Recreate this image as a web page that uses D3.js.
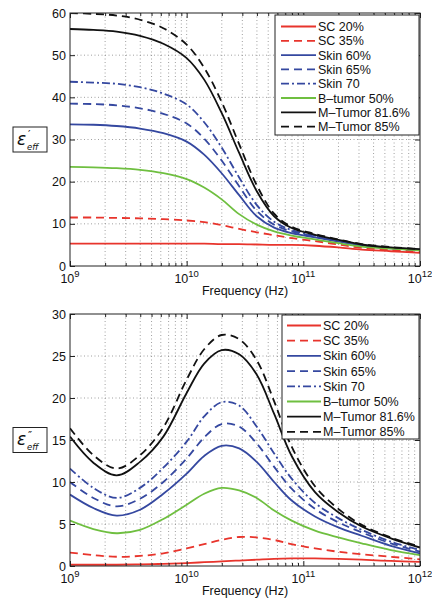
<!DOCTYPE html>
<html>
<head>
<meta charset="utf-8">
<script src="https://cdn.jsdelivr.net/npm/d3@7"></script>
<style>
  body { margin: 0; background: #fff; }
  svg { font-family: "Liberation Sans", Arial, Helvetica, sans-serif; }
</style>
</head>
<body>
<div id="chart-area"></div>
<script>
// frequency points (Hz) shared by every series
var freqHz = [1e9, 1.585e9, 2.512e9, 3.981e9, 6.31e9, 1e10, 1.413e10, 1.995e10, 2.818e10,
              3.981e10, 5.623e10, 7.943e10, 1.259e11, 1.995e11, 3.162e11, 5.623e11, 1e12];

var seriesNames = ["SC 20%", "SC 35%", "Skin 60%", "Skin 65%", "Skin 70", "B\u2013tumor 50%", "M\u2013Tumor 81.6%", "M\u2013Tumor 85%"];

// real part  eps'_eff
var realSC20   = [5.3, 5.3, 5.3, 5.3, 5.3, 5.3, 5.3, 5.2, 5.2, 5.1, 5.0, 5.0, 4.8, 4.4, 3.9, 3.5, 3.1];
var realSC35   = [11.5, 11.5, 11.4, 11.3, 11.1, 10.8, 10.4, 9.7, 8.8, 8.0, 7.3, 6.6, 5.9, 5.1, 4.3, 3.8, 3.4];
var realSkin60 = [33.6, 33.5, 33.2, 32.6, 31.5, 29.5, 26.4, 22.0, 16.8, 11.8, 9.1, 7.8, 6.8, 5.8, 4.9, 4.2, 3.8];
var realSkin65 = [38.5, 38.4, 38.1, 37.4, 36.1, 33.8, 30.2, 25.0, 18.9, 13.1, 9.8, 8.2, 7.0, 5.9, 4.9, 4.3, 3.9];
var realSkin70 = [43.7, 43.5, 43.2, 42.4, 40.9, 38.3, 34.1, 28.1, 21.0, 14.5, 10.5, 8.5, 7.2, 6.0, 5.0, 4.3, 3.9];
var realBT50   = [23.5, 23.4, 23.2, 22.8, 22.0, 20.6, 18.6, 15.8, 12.3, 9.8, 8.2, 7.2, 6.3, 5.4, 4.6, 4.1, 3.7];
var realMT816  = [56.2, 56.0, 55.6, 54.6, 52.7, 49.3, 44.2, 36.3, 26.8, 17.8, 11.8, 9.0, 7.4, 6.2, 5.1, 4.4, 4.0];
var realMT85   = [60.0, 59.8, 59.4, 58.4, 56.4, 52.5, 47.0, 38.9, 28.9, 19.2, 12.4, 9.3, 7.6, 6.3, 5.2, 4.5, 4.0];

// imaginary part  eps''_eff
var imagSC20   = [0.15, 0.15, 0.15, 0.2, 0.25, 0.35, 0.45, 0.55, 0.65, 0.75, 0.85, 0.9, 0.9, 0.85, 0.75, 0.6, 0.5];
var imagSC35   = [1.6, 1.3, 1.1, 1.2, 1.5, 2.1, 2.6, 3.1, 3.45, 3.4, 3.1, 2.6, 2.1, 1.7, 1.4, 1.1, 0.8];
var imagSkin60 = [8.5, 6.9, 6.0, 6.7, 8.6, 11.0, 13.1, 14.3, 14.0, 12.4, 10.0, 7.8, 5.9, 4.6, 3.6, 2.4, 1.5];
var imagSkin65 = [10.0, 8.1, 7.1, 8.0, 10.0, 12.8, 15.3, 16.9, 16.6, 14.6, 11.8, 9.2, 6.8, 5.2, 4.0, 2.7, 1.7];
var imagSkin70 = [11.6, 9.3, 8.1, 9.3, 11.7, 14.8, 17.8, 19.5, 19.1, 16.6, 13.4, 10.4, 7.5, 5.7, 4.3, 2.9, 1.9];
var imagBT50   = [5.4, 4.4, 3.9, 4.3, 5.6, 7.3, 8.6, 9.3, 9.0, 8.1, 6.6, 5.4, 4.2, 3.4, 2.7, 1.9, 1.3];
var imagMT816  = [15.4, 12.3, 10.8, 12.4, 15.4, 20.6, 24.1, 25.7, 25.2, 22.8, 18.1, 13.1, 8.8, 6.4, 4.7, 3.3, 2.2];
var imagMT85   = [16.4, 13.2, 11.6, 13.2, 16.5, 22.2, 25.8, 27.5, 27.0, 24.5, 19.6, 14.2, 9.5, 6.8, 4.9, 3.4, 2.3];

var xTicks = [1e9, 1e10, 1e11, 1e12];
var yTicksTop = [0, 10, 20, 30, 40, 50, 60];
var yTicksBottom = [0, 5, 10, 15, 20, 25, 30];

// line styles per series
var colors = ["#e8342c", "#e8342c", "#3548a0", "#3548a0", "#3548a0", "#6fbf40", "#111111", "#111111"];
var dashes = [null, "8,5", null, "8,5", "8,3,2,3", null, null, "8,5"];

var svg = d3.select("#chart-area")
    .append("svg")
        .attr("width", 432)
        .attr("height", 600);

svg.append("rect").attr("width", 432).attr("height", 600).attr("fill", "#fff");

var left = 70, right = 420;

var x = d3.scaleLog()
    .domain([1e9, 1e12])
    .range([left, right]);

// minor tick values 2..9 of each decade
var minorTicks = [];
[1e9, 1e10, 1e11].forEach(function(d){
    for (var k = 2; k <= 9; k++) minorTicks.push(k * d);
});

function drawPanel(opt){
    var y = d3.scaleLinear()
        .domain([0, opt.ymax])
        .range([opt.bottom, opt.top]);

    var g = svg.append("g");

    // grid
    g.selectAll(".vgrid")
        .data(minorTicks.concat([1e10, 1e11]))
        .enter().append("line")
        .attr("x1", function(d){ return x(d); })
        .attr("x2", function(d){ return x(d); })
        .attr("y1", opt.top).attr("y2", opt.bottom)
        .attr("stroke", "#888").attr("stroke-width", 0.8)
        .attr("stroke-dasharray", "1,2.5");

    g.selectAll(".hgrid")
        .data(opt.yTicks.slice(1, -1))
        .enter().append("line")
        .attr("x1", left).attr("x2", right)
        .attr("y1", function(d){ return y(d); })
        .attr("y2", function(d){ return y(d); })
        .attr("stroke", "#888").attr("stroke-width", 0.8)
        .attr("stroke-dasharray", "1,2.5");

    // curves
    var clipId = "clip" + opt.top;
    svg.append("clipPath").attr("id", clipId)
        .append("rect").attr("x", left).attr("y", opt.top)
        .attr("width", right - left).attr("height", opt.bottom - opt.top);

    var line = d3.line()
        .x(function(d){ return x(d[0]); })
        .y(function(d){ return y(d[1]); })
        .curve(d3.curveCatmullRom.alpha(0.5));

    g.append("g").attr("clip-path", "url(#" + clipId + ")")
        .selectAll("path")
        .data(opt.series)
        .enter().append("path")
        .attr("d", function(s){ return line(d3.zip(freqHz, s)); })
        .attr("fill", "none")
        .attr("stroke", function(s, i){ return colors[i]; })
        .attr("stroke-width", 1.8)
        .attr("stroke-dasharray", function(s, i){ return dashes[i]; });

    // axes, ticks pointing inward
    var yLeft = d3.axisLeft(y).tickValues(opt.yTicks).tickSize(-5).tickPadding(4);
    var yRight = d3.axisRight(y).tickValues(opt.yTicks).tickSize(-5).tickFormat("");
    var xBottom = d3.axisBottom(x).tickValues(xTicks).tickSize(-5).tickFormat("");
    var xTop = d3.axisTop(x).tickValues(xTicks).tickSize(-5).tickFormat("");
    var xBottomMinor = d3.axisBottom(x).tickValues(minorTicks).tickSize(-3).tickFormat("");
    var xTopMinor = d3.axisTop(x).tickValues(minorTicks).tickSize(-3).tickFormat("");

    var yl = g.append("g").attr("transform", "translate(" + left + ",0)").call(yLeft);
    g.append("g").attr("transform", "translate(" + right + ",0)").call(yRight);
    g.append("g").attr("transform", "translate(0," + opt.bottom + ")").call(xBottom);
    g.append("g").attr("transform", "translate(0," + opt.top + ")").call(xTop);
    g.append("g").attr("transform", "translate(0," + opt.bottom + ")").call(xBottomMinor);
    g.append("g").attr("transform", "translate(0," + opt.top + ")").call(xTopMinor);
    g.selectAll(".domain").remove();
    g.selectAll(".tick line").attr("stroke", "#222");

    yl.selectAll("text")
        .attr("font-size", "12.5px")
        .attr("font-family", "Liberation Sans, Arial, sans-serif")
        .attr("fill", "#111");

    // x tick labels 10^n
    var xl = g.selectAll(".xlab")
        .data(xTicks)
        .enter().append("text")
        .attr("x", function(d){ return x(d); })
        .attr("y", opt.bottom + 17)
        .attr("text-anchor", "middle")
        .attr("font-size", "12.5px")
        .attr("fill", "#111");
    xl.append("tspan").text("10");
    xl.append("tspan")
        .attr("dy", -6)
        .attr("font-size", "9.5px")
        .text(function(d){ return Math.round(Math.log10(d)); });

    g.append("text")
        .attr("x", 245)
        .attr("y", opt.bottom + 29)
        .attr("text-anchor", "middle")
        .attr("font-size", "12.5px")
        .attr("fill", "#111")
        .text("Frequency (Hz)");

    // plot border
    g.append("rect")
        .attr("x", left).attr("y", opt.top)
        .attr("width", right - left).attr("height", opt.bottom - opt.top)
        .attr("fill", "none").attr("stroke", "#222").attr("stroke-width", 1);

    // boxed y label: epsilon, primes above, "eff" below
    var cy = (opt.top + opt.bottom) / 2;
    g.append("rect")
        .attr("x", 13).attr("y", cy - 12.5)
        .attr("width", 34).attr("height", 25)
        .attr("fill", "#fff").attr("stroke", "#222").attr("stroke-width", 1);
    g.append("text")
        .attr("x", 17).attr("y", cy + 5)
        .attr("font-family", "DejaVu Sans, sans-serif")
        .attr("font-style", "italic")
        .attr("font-size", "17px")
        .attr("fill", "#111")
        .text("\u03b5");
    g.append("text")
        .attr("x", 28).attr("y", cy - 1.5)
        .attr("font-family", "DejaVu Sans, sans-serif")
        .attr("font-size", "11px")
        .attr("fill", "#111")
        .text(opt.prime);
    g.append("text")
        .attr("x", 27).attr("y", cy + 10)
        .attr("font-family", "DejaVu Sans, sans-serif")
        .attr("font-style", "italic")
        .attr("font-size", "8.5px")
        .attr("fill", "#111")
        .text("eff");

    // legend
    var lg = g.append("g");
    lg.append("rect")
        .attr("x", opt.legend.x).attr("y", opt.legend.y)
        .attr("width", opt.legend.w).attr("height", opt.legend.h)
        .attr("fill", "#fff").attr("stroke", "#222").attr("stroke-width", 1);
    var rows = lg.selectAll(".row")
        .data(seriesNames)
        .enter().append("g")
        .attr("transform", function(d, i){
            return "translate(0," + (opt.legend.y + opt.legend.first + i * opt.legend.step) + ")";
        });
    rows.append("line")
        .attr("x1", opt.legend.x1).attr("x2", opt.legend.x2)
        .attr("stroke", function(d, i){ return colors[i]; })
        .attr("stroke-width", 1.8)
        .attr("stroke-dasharray", function(d, i){ return dashes[i]; });
    rows.append("text")
        .attr("x", opt.legend.x2 + 2)
        .attr("y", 4.5)
        .attr("font-size", "12.5px")
        .attr("fill", "#111")
        .text(function(d){ return d; });
}

drawPanel({
    top: 13, bottom: 266, ymax: 60,
    yTicks: yTicksTop,
    series: [realSC20, realSC35, realSkin60, realSkin65, realSkin70, realBT50, realMT816, realMT85],
    prime: "\u2032",
    legend: { x: 275, y: 15, w: 144, h: 120, first: 11.5, step: 14.3, x1: 281, x2: 316 }
});

drawPanel({
    top: 314, bottom: 566, ymax: 30,
    yTicks: yTicksBottom,
    series: [imagSC20, imagSC35, imagSkin60, imagSkin65, imagSkin70, imagBT50, imagMT816, imagMT85],
    prime: "\u2033",
    legend: { x: 282, y: 315, w: 137, h: 124, first: 10.5, step: 15.2, x1: 287, x2: 321 }
});
</script>
</body>
</html>
